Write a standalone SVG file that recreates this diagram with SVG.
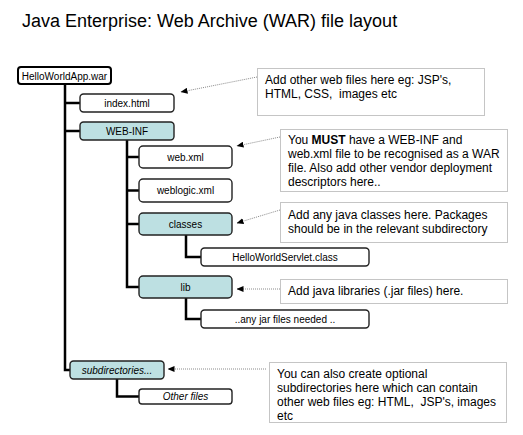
<svg xmlns="http://www.w3.org/2000/svg" width="523" height="435" viewBox="0 0 523 435">
<defs>
<marker id="ah" markerWidth="7" markerHeight="6" refX="6.5" refY="3" orient="auto" markerUnits="userSpaceOnUse">
<path d="M0,0 L7,3 L0,6 Z" fill="#000"/>
</marker>
<style>
.node{fill:#fff;stroke:#222;stroke-width:1.4}
.teal{fill:#bde0e2}
.root{fill:#fff;stroke:#000;stroke-width:2}
.nt{font-family:"Liberation Sans",Arial,sans-serif;font-size:10px;fill:#000;text-anchor:middle}
.it{font-style:italic}
.note{fill:#fff;stroke:#8a8a8a;stroke-width:1;stroke-dasharray:1,1}
.tx{font-family:"Liberation Sans",Arial,sans-serif;font-size:12px;fill:#000}
.tree{fill:none;stroke:#000;stroke-width:2.5}
.ptr{fill:none;stroke:#8a8a8a;stroke-width:1;stroke-dasharray:1,1}
</style>
</defs>
<rect width="523" height="435" fill="#fff"/>
<text x="22" y="27" font-family="'Liberation Sans',Arial,sans-serif" font-size="18" fill="#000">Java Enterprise: Web Archive (WAR) file layout</text>

<g id="connectors">
<path class="tree" d="M65,84 V370 H70"/>
<path class="tree" d="M65,103 H80"/>
<path class="tree" d="M65,131 H80"/>
<path class="tree" d="M127,140 V287 H139"/>
<path class="tree" d="M127,157 H139"/>
<path class="tree" d="M127,190.5 H139"/>
<path class="tree" d="M127,224 H139"/>
<path class="tree" d="M186,235 V257 H201"/>
<path class="tree" d="M186,298 V319 H201"/>
<path class="tree" d="M117,379 V396.5 H139"/>
<path class="ptr" d="M257,77 L181,92" marker-end="url(#ah)"/>
<path class="ptr" d="M280,137 L237,146" marker-end="url(#ah)"/>
<path class="ptr" d="M280,210 L237,223" marker-end="url(#ah)"/>
<path class="ptr" d="M280,289 L237,289" marker-end="url(#ah)"/>
<path class="ptr" d="M266,369 L168,369" marker-end="url(#ah)"/>
</g>

<g id="n-war"><rect class="root" x="18" y="67" width="93" height="17" rx="3"/><text class="nt" x="64.5" y="79.5">HelloWorldApp.war</text></g>
<g id="n-index"><rect class="node" x="80" y="94" width="94" height="18" rx="3.5"/><text class="nt" x="127" y="107">index.html</text></g>
<g id="n-webinf"><rect class="node teal" x="80" y="122" width="94" height="18" rx="3.5"/><text class="nt" x="127" y="135">WEB-INF</text></g>
<g id="n-webxml"><rect class="node" x="139" y="146" width="93" height="22" rx="4"/><text class="nt" x="185.5" y="161">web.xml</text></g>
<g id="n-weblogic"><rect class="node" x="139" y="179" width="93" height="23" rx="4"/><text class="nt" x="185.5" y="194">weblogic.xml</text></g>
<g id="n-classes"><rect class="node teal" x="139" y="213" width="93" height="22" rx="4"/><text class="nt" x="185.5" y="228">classes</text></g>
<g id="n-servlet"><rect class="node" x="201" y="248" width="168" height="18" rx="3.5"/><text class="nt" x="285" y="261">HelloWorldServlet.class</text></g>
<g id="n-lib"><rect class="node teal" x="139" y="276" width="93" height="22" rx="4"/><text class="nt" x="185.5" y="291">lib</text></g>
<g id="n-jar"><rect class="node" x="201" y="310" width="168" height="18" rx="3.5"/><text class="nt" x="285" y="323">..any jar files needed ..</text></g>
<g id="n-subdir"><rect class="node teal" x="70" y="361" width="94" height="18" rx="3.5"/><text class="nt it" x="117" y="374">subdirectories...</text></g>
<g id="n-other"><rect class="node" x="139" y="389" width="93" height="15" rx="3"/><text class="nt it" x="185.5" y="400">Other files</text></g>

<g id="note-web"><rect class="note" x="257.5" y="68.5" width="227" height="47"/>
<text class="tx" x="265" y="84" xml:space="preserve">Add other web files here eg: JSP's,</text>
<text class="tx" x="265" y="98" xml:space="preserve">HTML, CSS,  images etc</text></g>
<g id="note-must"><rect class="note" x="280.5" y="129.5" width="227" height="62"/>
<text class="tx" x="288" y="144">You <tspan font-weight="bold">MUST</tspan> have a WEB-INF and</text>
<text class="tx" x="288" y="158">web.xml file to be recognised as a WAR</text>
<text class="tx" x="288" y="172">file. Also add other vendor deployment</text>
<text class="tx" x="288" y="186">descriptors here..</text></g>
<g id="note-classes"><rect class="note" x="280.5" y="202.5" width="227" height="40"/>
<text class="tx" x="288" y="219">Add any java classes here. Packages</text>
<text class="tx" x="288" y="233">should be in the relevant subdirectory</text></g>
<g id="note-lib"><rect class="note" x="280.5" y="279.5" width="227" height="24"/>
<text class="tx" x="288" y="295">Add java libraries (.jar files) here.</text></g>
<g id="note-subdir"><rect class="note" x="269.5" y="362.5" width="237" height="60"/>
<text class="tx" x="277" y="378">You can also create optional</text>
<text class="tx" x="277" y="392">subdirectories here which can contain</text>
<text class="tx" x="277" y="406" xml:space="preserve">other web files eg: HTML,  JSP's, images</text>
<text class="tx" x="277" y="420">etc</text></g>
</svg>
